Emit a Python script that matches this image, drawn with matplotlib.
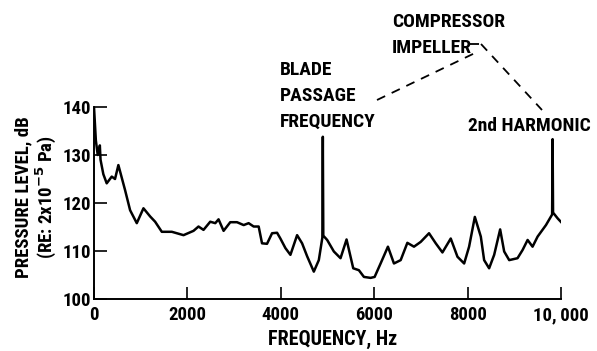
import matplotlib
matplotlib.use("Agg")
import matplotlib.pyplot as plt
from matplotlib.lines import Line2D

# spectrum (frequency in Hz, level in dB)
freq = [0, 40, 80, 110, 125, 140, 200, 272, 380, 450, 522, 665, 773, 916, 1059,
        1202, 1309, 1452, 1667, 1917, 2131, 2238, 2345, 2489, 2597, 2667, 2775,
        2918, 3062, 3205, 3311, 3419, 3526, 3598, 3705, 3813, 3920, 3991, 4099,
        4206, 4349, 4456, 4564, 4707, 4814, 4890, 4900, 4910, 4993, 5136, 5279,
        5408, 5551, 5672, 5780, 5923, 6009, 6137, 6294, 6423, 6567, 6710, 6852,
        6996, 7174, 7318, 7461, 7639, 7783, 7926, 8032, 8155, 8283, 8354, 8461,
        8569, 8697, 8783, 8891, 9069, 9177, 9285, 9391, 9499, 9678, 9810, 9820,
        9830, 9928, 10014]
level = [140, 133, 130, 130.5, 132, 129, 126, 124.1, 125.5, 125, 127.9, 122.7,
         118.5, 115.8, 118.9, 117.2, 116.1, 114, 114, 113.3, 114.2, 115.1, 114.4,
         116.1, 115.8, 116.6, 114.2, 116, 116, 115.4, 115.8, 115.1, 115.1, 111.6,
         111.5, 113.7, 113.8, 112.6, 110.6, 109.2, 113.3, 111.6, 108.9, 105.7,
         108.1, 112.8, 133.8, 113.2, 112.3, 109.9, 108.5, 112.4, 106.4, 106,
         104.6, 104.4, 104.6, 107.4, 110.9, 107.4, 108.1, 111.7, 110.9, 111.9,
         113.7, 111.6, 109.7, 112.6, 108.8, 107.4, 110.9, 117.1, 113, 108.1, 106.4,
         109.2, 114.5, 109.9, 108.1, 108.5, 110.2, 112.3, 110.9, 113, 115.4, 117.6,
         133.3, 118, 116.8, 115.9]

xticks = [0, 2000, 4000, 6000, 8000, 10000]
xtick_labels = ["0", "2000", "4000", "6000", "8000", "10,\u2009000"]
yticks = [100, 110, 120, 130, 140]

# narrow lettering like the original; first installed family wins
plt.rcParams["font.family"] = ["Roboto Condensed", "PT Sans Narrow", "Archivo Narrow",
                               "Barlow Semi Condensed", "Abel", "DejaVu Sans"]
plt.rcParams["font.weight"] = "bold"
plt.rcParams["axes.labelweight"] = "bold"

W, H = 597, 351
fig = plt.figure(figsize=(W / 100, H / 100), dpi=100)
ax = fig.add_axes([94 / W, 1 - 299 / H, 467 / W, 192 / H])

ax.plot(freq, level, color="black", lw=1.8, solid_joinstyle="round")

ax.set_xlim(0, 10000)
ax.set_ylim(100, 140)
ax.set_xticks(xticks)
ax.set_xticklabels(xtick_labels)
ax.set_yticks(yticks)
ax.tick_params(direction="in", length=9, width=1.2, labelsize=13.5)
ax.tick_params(axis="y", pad=2)
ax.tick_params(axis="x", pad=5)
for s in ("top", "right"):
    ax.spines[s].set_visible(False)
for s in ("left", "bottom"):
    ax.spines[s].set_linewidth(1.4)

ax.set_xlabel("FREQUENCY, Hz", fontsize=14.5)
ax.xaxis.set_label_coords(0.512, -0.16)
ax.set_ylabel("PRESSURE LEVEL, dB\n(RE: 2x10$^{-5}$ Pa)", fontsize=13.5,
              linespacing=1.0)
ax.yaxis.set_label_coords(-0.078, 0.53)


def px(x, y):
    return x / W, 1 - y / H


# annotations
fig.text(*px(280, 96), "BLADE\nPASSAGE\nFREQUENCY", fontsize=14,
         ha="left", va="center", linespacing=1.55)
fig.text(*px(392, 35), "COMPRESSOR\nIMPELLER", fontsize=14,
         ha="left", va="center", linespacing=1.55)
fig.text(*px(468, 126), "2nd HARMONIC", fontsize=14, ha="left", va="center")

for (x0, y0), (x1, y1) in [((377, 100), (475, 53)), ((481, 44), (542, 110)),
                           ((470, 44), (481, 44))]:
    fig.add_artist(Line2D([x0 / W, x1 / W], [1 - y0 / H, 1 - y1 / H],
                          transform=fig.transFigure, color="black", lw=1.3,
                          linestyle=(0, (5, 4))))

fig.savefig("out.png", dpi=100)
